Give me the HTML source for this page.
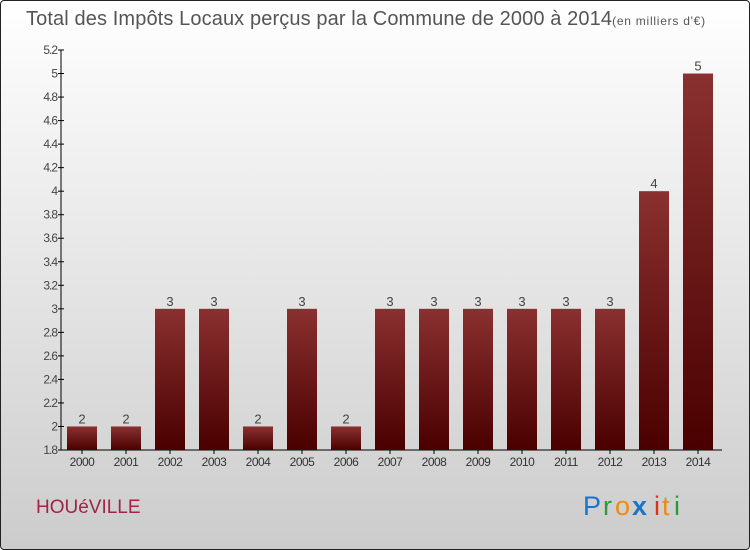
<!DOCTYPE html>
<html><head><meta charset="utf-8"><style>
body{margin:0;width:750px;height:550px;overflow:hidden;font-family:"Liberation Sans",sans-serif}
#frame{position:absolute;left:0;top:0;width:748px;height:548px;border:1px solid #222;border-radius:4px;background:linear-gradient(#fff,#ccc)}
</style></head><body>
<div id="frame">
<svg width="750" height="550" style="position:absolute;left:-1px;top:-1px">
<defs><linearGradient id="bg" x1="0" y1="0" x2="0" y2="1"><stop offset="0" stop-color="#8a3030"/><stop offset="1" stop-color="#4a0000"/></linearGradient></defs>
<text x="26" y="25" font-size="20" fill="#555"><tspan textLength="586" lengthAdjust="spacing">Total des Impôts Locaux perçus par la Commune de 2000 à 2014</tspan><tspan font-size="12" textLength="93" lengthAdjust="spacing">(en milliers d'€)</tspan></text>
<g id="axes"></g><g id="bars"></g>
<text x="36" y="513" font-size="19" fill="#a0234a">HOUéVILLE</text>
<g font-size="27" font-family="'Liberation Sans',sans-serif">
<text x="583" y="515" fill="#1a75c9">P</text><text x="603" y="515" fill="#2a9a3a">r</text><text x="615" y="515" fill="#f08a10">o</text><text x="632" y="515" fill="#1a75c9" font-weight="bold">x</text><text x="654" y="515" fill="#e03010">i</text><text x="662" y="515" fill="#f08a10">t</text><text x="674" y="515" fill="#2a9a3a">i</text></g>
</svg></div>
<script>
const years=["2000","2001","2002","2003","2004","2005","2006","2007","2008","2009","2010","2011","2012","2013","2014"];
const values=[2,2,3,3,2,3,2,3,3,3,3,3,3,4,5];
const ticks=[1.8,2,2.2,2.4,2.6,2.8,3,3.2,3.4,3.6,3.8,4,4.2,4.4,4.6,4.8,5,5.2];
const NS="http://www.w3.org/2000/svg";
const y0=450,y1=50,vmin=1.8,vmax=5.2,xL=61;
const Y=v=>y0-(v-vmin)/(vmax-vmin)*(y0-y1);
const X=i=>82+i*44;
function mk(t,a,p){const e=document.createElementNS(NS,t);for(const k in a)e.setAttribute(k,a[k]);p.appendChild(e);return e;}
const ax=document.getElementById('axes'),bs=document.getElementById('bars');
let l=mk('line',{x1:xL,y1:y1,x2:xL,y2:y0,stroke:'#000'},ax);

l=mk('line',{x1:xL,y1:y0,x2:722,y2:y0,stroke:'#000'},ax);

ticks.forEach(t=>{const y=Y(t);mk('line',{x1:xL-3,y1:y,x2:xL+3,y2:y,stroke:'#000'},ax);
const tx=mk('text',{x:xL-4,y:y+4,'font-size':12,'text-anchor':'end',fill:'#444','letter-spacing':'-1'},ax);tx.textContent=String(t);
});
years.forEach((yr,i)=>{const x=X(i),v=values[i];
mk('line',{x1:x,y1:y0,x2:x,y2:y0+4,stroke:'#000'},ax);
const tl=mk('text',{x:x,y:466,'font-size':12,'text-anchor':'middle',fill:'#333','letter-spacing':'-0.5'},ax);tl.textContent=yr;

const r=mk('rect',{x:x-15,y:Y(v),width:30,height:y0-Y(v),fill:'url(#bg)'},bs);

const vl=mk('text',{x:x,y:Y(v)-3,'font-size':13,'text-anchor':'middle',fill:'#444'},bs);vl.textContent=v;
});
</script></body></html>
